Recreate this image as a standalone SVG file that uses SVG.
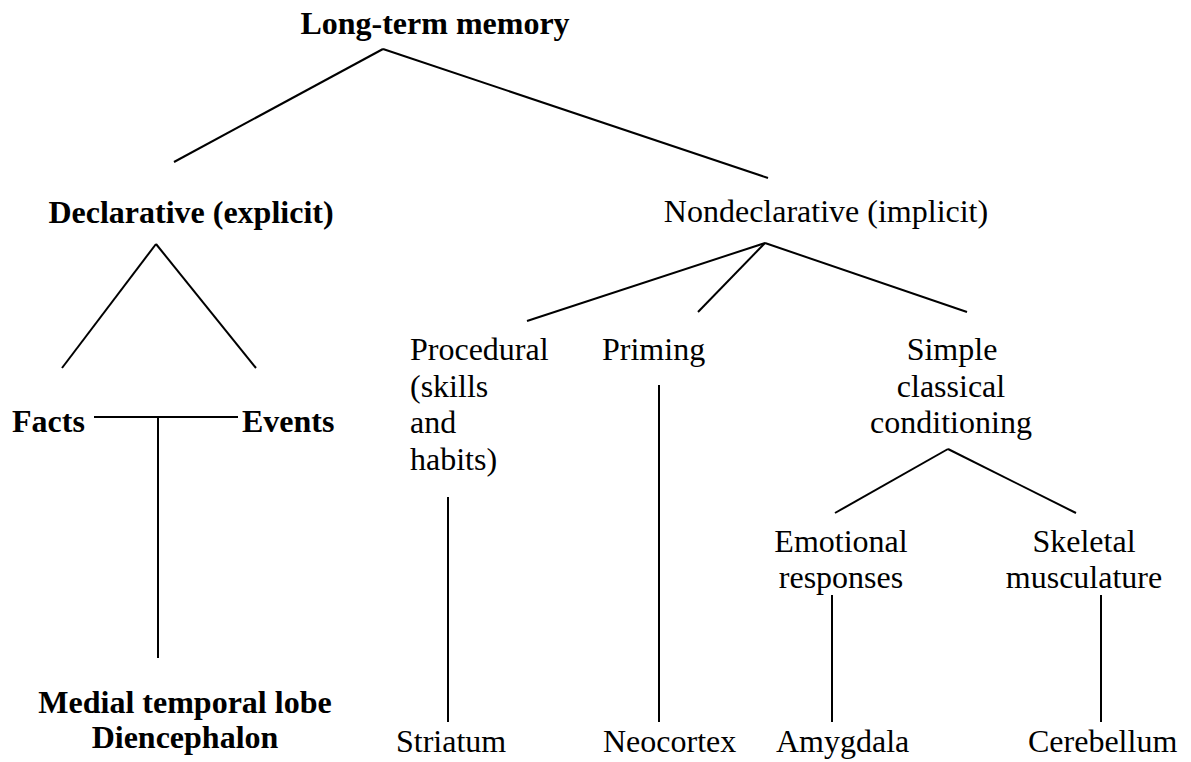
<svg xmlns="http://www.w3.org/2000/svg" width="1191" height="762" viewBox="0 0 1191 762">
<style>
text{font-family:"Liberation Serif","Times New Roman",serif;font-size:32px;fill:#000}
.b{font-weight:bold}
.m{text-anchor:middle}
line{stroke:#000;stroke-width:2;fill:none}
</style>
<rect width="1191" height="762" fill="#fff"/>
<g id="connectors">
<line x1="174" y1="162" x2="383" y2="49"/>
<line x1="383" y1="49" x2="768" y2="178"/>
<line x1="62" y1="368" x2="156" y2="244"/>
<line x1="156" y1="244" x2="256" y2="368"/>
<line x1="94" y1="417" x2="238" y2="417"/>
<line x1="158" y1="417" x2="158" y2="658"/>
<line x1="527" y1="321" x2="765" y2="243"/>
<line x1="698" y1="312" x2="765" y2="243"/>
<line x1="765" y1="243" x2="967" y2="312"/>
<line x1="448" y1="497" x2="448" y2="722"/>
<line x1="659" y1="385" x2="659" y2="722"/>
<line x1="835" y1="513" x2="948" y2="449"/>
<line x1="948" y1="449" x2="1076" y2="513"/>
<line x1="832" y1="595" x2="832" y2="722"/>
<line x1="1101" y1="595" x2="1101" y2="722"/>
</g>
<g id="ltm"><text class="b m" x="435" y="34">Long-term memory</text></g>
<g id="declarative"><text class="b m" x="191" y="223">Declarative (explicit)</text></g>
<g id="nondeclarative"><text class="m" x="826" y="222">Nondeclarative (implicit)</text></g>
<g id="facts"><text class="b" x="12" y="432">Facts</text></g>
<g id="events"><text class="b" x="242" y="432">Events</text></g>
<g id="mtl"><text class="b m" x="185" y="713">Medial temporal lobe</text><text class="b m" x="185" y="748">Diencephalon</text></g>
<g id="procedural"><text x="410" y="360">Procedural</text><text x="410" y="397">(skills</text><text x="410" y="433">and</text><text x="410" y="470">habits)</text></g>
<g id="priming"><text x="602" y="360">Priming</text></g>
<g id="conditioning"><text class="m" x="952" y="360">Simple</text><text class="m" x="951" y="397">classical</text><text class="m" x="951" y="433">conditioning</text></g>
<g id="emotional"><text class="m" x="841" y="552">Emotional</text><text class="m" x="841" y="588">responses</text></g>
<g id="skeletal"><text class="m" x="1084" y="552">Skeletal</text><text class="m" x="1084" y="588">musculature</text></g>
<g id="striatum"><text x="396" y="752">Striatum</text></g>
<g id="neocortex"><text x="603" y="752">Neocortex</text></g>
<g id="amygdala"><text x="776" y="752">Amygdala</text></g>
<g id="cerebellum"><text x="1028" y="752">Cerebellum</text></g>
</svg>
